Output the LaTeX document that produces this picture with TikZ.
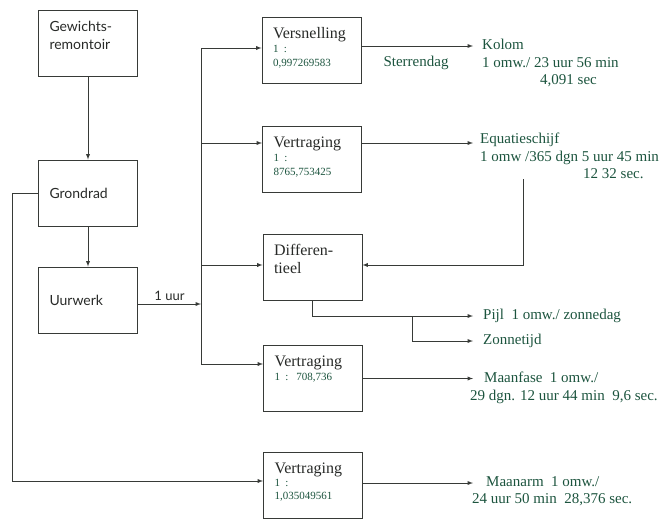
\documentclass[tikz,border=0pt]{standalone}
\usepackage{fontspec}
\setmainfont{Liberation Serif}
\newfontfamily\gearfont{Lato}
\usetikzlibrary{arrows, positioning, calc}

\definecolor{lijn}{RGB}{55,58,55}
\definecolor{tekst}{RGB}{40,42,40}
\definecolor{groen}{RGB}{28,84,62}

\newcommand{\ratio}[1]{{\fontsize{11}{13}\selectfont\color{groen}#1}}

\begin{document}
\begin{tikzpicture}[x=1pt, y=-1pt, >=latex, auto]
  % Styles
  \tikzstyle{box} = [rectangle, draw=lijn, line width=0.9pt, minimum width=99pt, minimum height=66pt, text width=77pt, inner xsep=11pt, inner ysep=4pt, align=left, text=tekst]
  \tikzstyle{gear} = [box, font=\gearfont\fontsize{14}{18}\selectfont]
  \tikzstyle{stage} = [box, text height=17pt, text depth=41pt, font=\fontsize{16}{14}\selectfont]
  \tikzstyle{line} = [draw=lijn, line width=0.9pt]
  \tikzstyle{message} = [line, ->]
  \tikzstyle{result} = [inner sep=0pt, align=left, text=groen, font=\fontsize{15}{17.5}\selectfont]

  \useasboundingbox (0,0) rectangle (663,528);

  % Drive
  \node[gear, text height=17pt, text depth=41pt] (remontoir) at (88,43) {Gewichts-\\remontoir};
  \node[gear] (grondrad) at (88,193) {Grondrad};
  \node[gear] (uurwerk) at (88,300) {Uurwerk};

  % Stages
  \node[stage] (versnelling) at (311.5,50) {Versnelling\\\ratio{1 :}\\\ratio{0,997269583}};
  \node[stage] (vertraging1) at (312,159.5) {Vertraging\\\ratio{1 :}\\\ratio{8765,753425}};
  \node[stage] (differentieel) at (312.5,267) {Differen-\\[4pt]tieel};
  \node[stage] (vertraging2) at (313,378.5) {Vertraging\\\ratio{1 : 708,736}};
  \node[stage] (vertraging3) at (313,485.5) {Vertraging\\[-1pt]\ratio{1 :}\\[-1pt]\ratio{1,035049561}};

  % Ports
  \coordinate (bus) at (201,0);
  \coordinate (wall) at (12,0);
  \coordinate (tips) at (473,0);
  \coordinate (hourOut) at ($(uurwerk.east)+(0,4)$);
  \coordinate (inVs) at ($(versnelling.west)+(0,-2)$);
  \coordinate (inVt1) at ($(vertraging1.west)+(0,-16.5)$);
  \coordinate (inDf) at ($(differentieel.west)+(0,-2)$);
  \coordinate (inDfR) at ($(differentieel.east)+(0,-2)$);
  \coordinate (inVt2) at ($(vertraging2.west)+(0,-14.5)$);
  \coordinate (inVt3) at ($(vertraging3.west)+(0,-4.5)$);
  \coordinate (outVs) at ($(versnelling.east)+(0,-4)$);
  \coordinate (outVt1) at ($(vertraging1.east)+(0,-16.5)$);
  \coordinate (outVt3) at ($(vertraging3.east)+(0,-2.5)$);

  % Drive train
  \draw[message] (remontoir) -- (grondrad);
  \draw[message] (grondrad) -- (uurwerk);
  \draw[message] (hourOut) -- node[text=tekst, font=\gearfont\fontsize{13}{13}\selectfont] {1 uur} (hourOut -| bus);
  \draw[line] (inVs -| bus) -- (inVt2 -| bus);
  \draw[message] (inVs -| bus) -- (inVs);
  \draw[message] (inVt1 -| bus) -- (inVt1);
  \draw[message] (inDf -| bus) -- (inDf);
  \draw[message] (inVt2 -| bus) -- (inVt2);
  \draw[message] (grondrad.west) -- (grondrad.west -| wall) |- (inVt3);

  % Kolom
  \node[result, anchor=north west] (kolom) at (482,39) {Kolom\\1 omw./ 23 uur 56 min\\\hspace*{58pt}4,091 sec};
  \node[result] (sterrendag) at (416,63) {Sterrendag};
  \draw[message] (outVs) -- (outVs -| tips);

  % Equatieschijf
  \node[result, anchor=north west] (equatie) at (480,133) {Equatieschijf\\1 omw /365 dgn 5 uur 45 min\\\hspace*{103pt}12 32 sec.};
  \draw[message] (outVt1) -- (outVt1 -| tips);
  \draw[message] ($(equatie.south west)+(43,0)$) |- (inDfR);

  % Pijl and Zonnetijd
  \node[result, anchor=west] (pijl) at (483,316) {Pijl\ \ 1 omw./ zonnedag};
  \node[result, anchor=west] (zonnetijd) at (483,341) {Zonnetijd};
  \coordinate (branch) at ($(pijl.west -| differentieel.east)+(50,0)$);
  \draw[message] (differentieel.south) |- (pijl.west -| tips);
  \draw[message] (branch) |- (zonnetijd.west -| tips);

  % Maanfase
  \node[result, anchor=north west] (maanfase) at (470,372) {\hspace*{14pt}Maanfase\ \ 1 omw./\\29 dgn. 12 uur 44 min\ \ 9,6 sec.};
  \draw[message] (vertraging2.east) -- (vertraging2.east -| tips);

  % Maanarm
  \node[result, anchor=north west] (maanarm) at (472,476) {\hspace*{14pt}Maanarm\ \ 1 omw./\\24 uur 50 min\ \ 28,376 sec.};
  \draw[message] (outVt3) -- (outVt3 -| tips);

\end{tikzpicture}
\end{document}
